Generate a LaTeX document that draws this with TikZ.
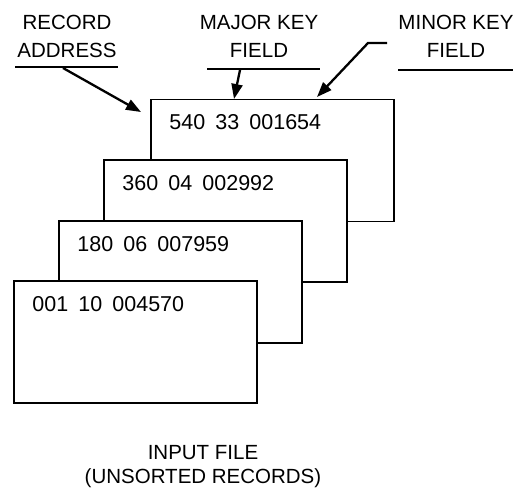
\documentclass[tikz,border=0pt]{standalone}
\usepackage{fontspec}
\setmainfont{Liberation Sans}
\newfontfamily\recfont[WordSpace=1.7]{Liberation Sans}
\usetikzlibrary{arrows.meta}
\tikzset{
  card/.style={draw,fill=white,line width=1.7pt,minimum width=243pt,minimum height=122pt,inner sep=0pt},
  cardtext/.style={anchor=west,inner sep=0pt,font=\fontsize{21.5}{28}\recfont},
  caption/.style={align=center,inner sep=0pt},
  pointer/.style={line width=2.3pt,-{Triangle[length=15pt,width=11pt]}},
  rule/.style={line width=1.4pt}
}
\begin{document}
\begin{tikzpicture}[x=1pt,y=-1pt,every node/.style={font=\fontsize{20.5}{28}\selectfont}]
    \useasboundingbox (0,0) rectangle (513,495);
    % stacked records, back to front
    \node[card] (c1) at (272.5,160.5) {};
    \node[card] (c2) at (225.5,221) {};
    \node[card] (c3) at (180.5,282) {};
    \node[card] (c4) at (135.5,342) {};
    \node[cardtext] (t1) at ([shift={(19,23.5)}]c1.north west) {540 33 001654};
    \node[cardtext] (t2) at ([shift={(19,23.5)}]c2.north west) {360 04 002992};
    \node[cardtext] (t3) at ([shift={(19,23.5)}]c3.north west) {180 06 007959};
    \node[cardtext] (t4) at ([shift={(19,23.5)}]c4.north west) {001 10 004570};
    % field labels
    \node[caption] (addr) at (67,36.5) {RECORD\\ADDRESS};
    \node[caption] (major) at (259,36.5) {MAJOR KEY\\FIELD};
    \node[caption] (minor) at (456,36.5) {MINOR KEY\\FIELD};
    \draw[rule] (15,67) -- (118,67);
    \draw[rule] (207,69) -- (320,69);
    \draw[rule] (398,70) -- (513,70);
    \coordinate (addrtip) at (141,112);
    \coordinate (majortip) at (234,99);
    \coordinate (minortip) at (317,97);
    \draw[pointer] (63,68) -- (addrtip);
    \draw[pointer] (240,70) -- (majortip);
    \draw[pointer] (387,43) -- (368,43) -- (minortip);
    % caption below
    \node[caption] (file) at (203,467) {INPUT FILE\\[-4pt](UNSORTED RECORDS)};
\end{tikzpicture}
\end{document}
